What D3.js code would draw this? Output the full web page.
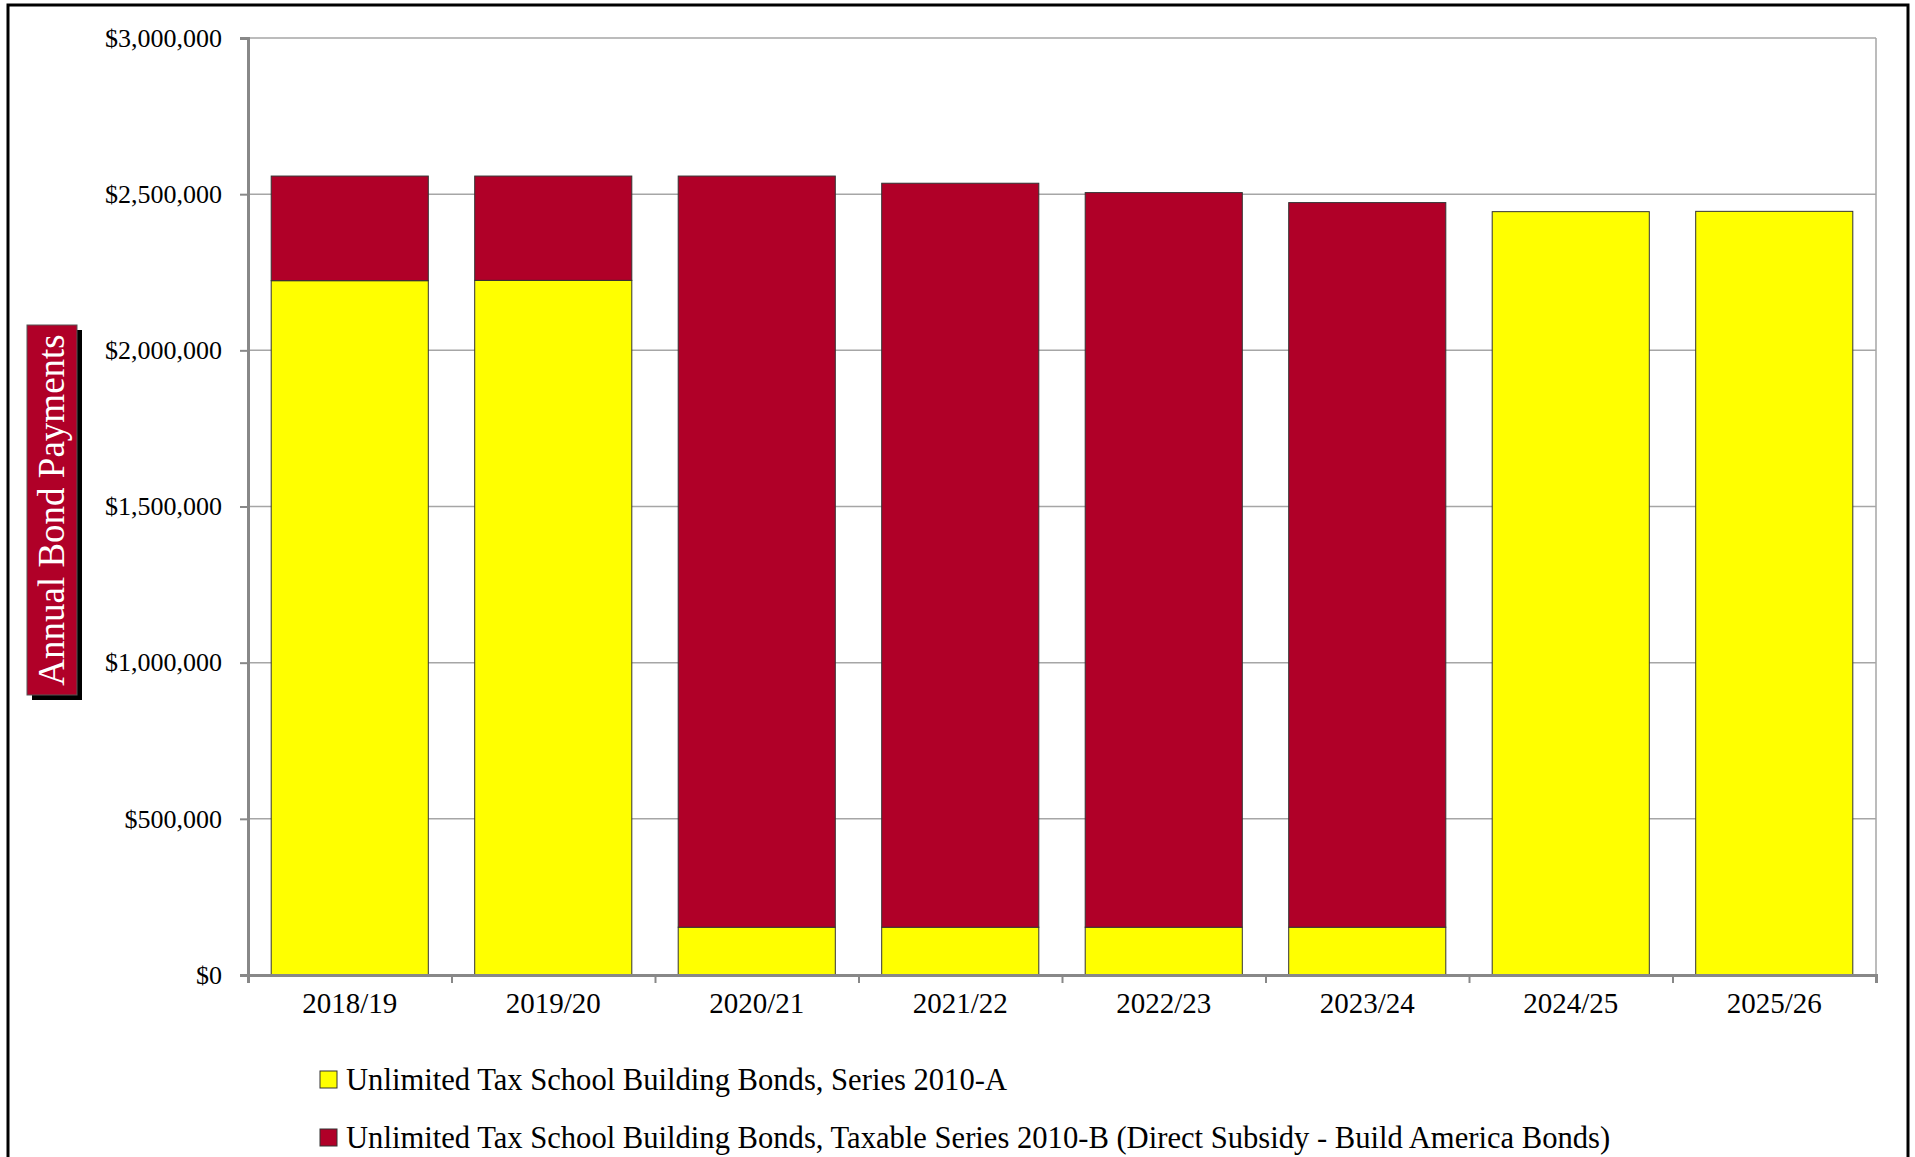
<!DOCTYPE html>
<html>
<head>
<meta charset="utf-8">
<script src="https://cdn.jsdelivr.net/npm/d3@7"></script>
<style>
  body { margin: 0; background: #fff; }
  svg text { font-family: "Liberation Serif", "DejaVu Serif", serif; }
</style>
</head>
<body>
<div id="chart"></div>
<script>
// data
const years = ['2018/19', '2019/20', '2020/21', '2021/22', '2022/23', '2023/24', '2024/25', '2025/26'];
const series2010A = [2223000, 2224000, 153000, 153000, 153000, 153000, 2444000, 2445000];
const series2010B = [335000, 334000, 2405000, 2382000, 2352000, 2320000, 0, 0];
const seriesNames = [
    'Unlimited Tax School Building Bonds, Series 2010-A',
    'Unlimited Tax School Building Bonds, Taxable Series 2010-B (Direct Subsidy - Build America Bonds)'
];
const seriesColors = ['#ffff00', '#b00028'];
const yTicks = [0, 500000, 1000000, 1500000, 2000000, 2500000, 3000000];
const yLabel = 'Annual Bond Payments';

const outerWidth = 1915, outerHeight = 1157;
const plot = { left: 248, right: 1876, top: 38, bottom: 975 };

const svg = d3.select('#chart').append('svg')
    .attr('width', outerWidth)
    .attr('height', outerHeight);

// outer frame
svg.append('rect')
    .attr('x', 8).attr('y', 5)
    .attr('width', 1900).attr('height', 1170)
    .attr('fill', 'none')
    .attr('stroke', '#000')
    .attr('stroke-width', 3);

const x = d3.scaleBand().domain(years).range([plot.left, plot.right])
    .paddingInner(0.228).paddingOuter(0.114);
const xEdge = d3.scaleLinear().domain([0, years.length]).range([plot.left, plot.right]);
const y = d3.scaleLinear().domain([0, 3000000]).range([plot.bottom, plot.top]);

// grid lines
svg.append('g')
    .selectAll('line')
    .data(yTicks.slice(1))
    .join('line')
    .attr('x1', plot.left).attr('x2', plot.right)
    .attr('y1', d => y(d)).attr('y2', d => y(d))
    .attr('stroke', '#a6a6a6')
    .attr('stroke-width', 1.5);

svg.append('line')
    .attr('x1', plot.right).attr('x2', plot.right)
    .attr('y1', plot.top).attr('y2', plot.bottom)
    .attr('stroke', '#a6a6a6')
    .attr('stroke-width', 1.5);

// stacked bars
const rows = years.map((yr, i) => ({ year: yr, a: series2010A[i], b: series2010B[i] }));
const stacked = d3.stack().keys(['a', 'b'])(rows);

svg.append('g')
    .selectAll('g')
    .data(stacked)
    .join('g')
    .attr('fill', (d, i) => seriesColors[i])
    .selectAll('rect')
    .data(d => d.filter(p => p[1] > p[0]))
    .join('rect')
    .attr('x', d => x(d.data.year))
    .attr('width', x.bandwidth())
    .attr('y', d => y(d[1]))
    .attr('height', d => y(d[0]) - y(d[1]))
    .attr('stroke', '#333')
    .attr('stroke-width', 1);

// y axis
const yAxis = svg.append('g')
    .attr('transform', `translate(${plot.left}, 0)`)
    .call(d3.axisLeft(y).tickValues(yTicks).tickSize(8).tickPadding(18)
        .tickFormat(d3.format('$,.0f')));
yAxis.selectAll('line').attr('stroke', '#888').attr('stroke-width', 2);
yAxis.select('.domain').attr('stroke', '#888').attr('stroke-width', 3);
yAxis.selectAll('text')
    .style('font-family', '"Liberation Serif", serif')
    .style('font-size', '26px')
    .attr('fill', '#000');

// x axis: labels under bands, ticks at band edges
const xAxis = svg.append('g')
    .attr('transform', `translate(0, ${plot.bottom})`)
    .call(d3.axisBottom(x).tickSize(0).tickPadding(17));
xAxis.select('.domain').remove();
xAxis.selectAll('text')
    .style('font-family', '"Liberation Serif", serif')
    .style('font-size', '29px')
    .attr('fill', '#000');

svg.append('g')
    .attr('transform', `translate(0, ${plot.bottom})`)
    .call(d3.axisBottom(xEdge).ticks(years.length).tickSize(8).tickFormat(''))
    .call(g => g.selectAll('line').attr('stroke', '#888').attr('stroke-width', 2))
    .call(g => g.select('.domain').attr('stroke', '#888').attr('stroke-width', 3));

// y label box
const box = { x: 27, y: 325, w: 50, h: 370 };
svg.append('rect')
    .attr('x', box.x + 5).attr('y', box.y + 5)
    .attr('width', box.w).attr('height', box.h)
    .attr('fill', '#000');
svg.append('rect')
    .attr('x', box.x).attr('y', box.y)
    .attr('width', box.w).attr('height', box.h)
    .attr('fill', seriesColors[1])
    .attr('stroke', '#555')
    .attr('stroke-width', 1);
svg.append('text')
    .attr('transform', `translate(${box.x + box.w / 2 + 12}, ${box.y + box.h / 2}) rotate(-90)`)
    .attr('text-anchor', 'middle')
    .attr('fill', '#fff')
    .style('font-size', '37px')
    .text(yLabel);

// legend
const legend = svg.append('g')
    .selectAll('g')
    .data(seriesNames)
    .join('g')
    .attr('transform', (d, i) => `translate(320, ${1071 + i * 58})`);
legend.append('rect')
    .attr('width', 17).attr('height', 17)
    .attr('fill', (d, i) => seriesColors[i])
    .attr('stroke', '#333')
    .attr('stroke-width', 1);
legend.append('text')
    .attr('x', 26).attr('y', 19)
    .style('font-size', '30.6px')
    .attr('fill', '#000')
    .text(d => d);
</script>
</body>
</html>
